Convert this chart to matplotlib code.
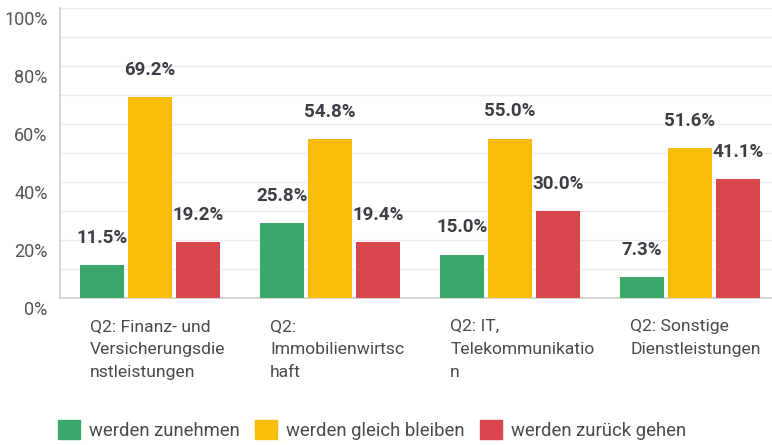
import numpy as np
import matplotlib.pyplot as plt
import matplotlib.transforms as mtransforms
from matplotlib.patches import Patch

categories = [
    "Q2: Finanz- und\nVersicherungsdie\nnstleistungen",
    "Q2:\nImmobilienwirtsc\nhaft",
    "Q2: IT,\nTelekommunikatio\nn",
    "Q2: Sonstige\nDienstleistungen",
]
series_names = ["werden zunehmen", "werden gleich bleiben", "werden zurück gehen"]
zunehmen = [11.5, 25.8, 15.0, 7.3]
gleich = [69.2, 54.8, 55.0, 51.6]
zurueck = [19.2, 19.4, 30.0, 41.1]
colors = ["#3aa86a", "#f7bd0a", "#d9464b"]

plt.rcParams["font.family"] = ["Roboto", "DejaVu Sans"]

fig = plt.figure(figsize=(7.72, 4.45), dpi=100)
ax = fig.add_axes([60 / 772, 147 / 445, 720 / 772, 290 / 445])

x = np.arange(len(categories))
width = 0.24
step = 0.267
for k, (vals, col) in enumerate(zip([zunehmen, gleich, zurueck], colors)):
    pos = x + (k - 1) * step
    ax.bar(pos, vals, width, color=col, zorder=3)
    for p, v in zip(pos, vals):
        ax.annotate(f"{v:.1f}%", (p, v), xytext=(0, 19.5), textcoords="offset points",
                    ha="center", va="center", fontsize=13.5, fontweight="bold", color="#3d3d45")

ax.set_xlim(-0.5, 3.5)
ax.set_ylim(0, 100)
ax.set_yticks(np.arange(0, 101, 20))
ax.set_yticks(np.arange(0, 101, 10), minor=True)
ax.set_yticklabels([f"{t}%" for t in range(0, 101, 20)], fontsize=13, color="#555555")
ax.tick_params(axis="y", which="both", length=0, pad=9)
ax.grid(axis="y", which="both", color="#ececec", linewidth=1, zorder=0)
ax.set_xticks([])
for s in ["top", "right"]:
    ax.spines[s].set_visible(False)
ax.spines["left"].set_color("#d0d0d0")
ax.spines["bottom"].set_color("#d0d0d0")
ax.spines["left"].set_linewidth(1.2)
ax.spines["bottom"].set_linewidth(1.2)

offset = mtransforms.ScaledTranslation(0, -10 / 100, fig.dpi_scale_trans)
for lab in ax.get_yticklabels():
    lab.set_transform(lab.get_transform() + offset)

trans = mtransforms.blended_transform_factory(ax.transData, ax.transAxes)
for i, name in enumerate(categories):
    ax.text(i - step - width / 2 + 0.055, -0.072, name, transform=trans, ha="left", va="top",
            fontsize=12.6, color="#4a4a4a", linespacing=1.68)

handles = [Patch(facecolor=c, edgecolor=c) for c in colors]
fig.legend(handles, series_names, loc="center left", bbox_to_anchor=(58 / 772, 1 - 430 / 445),
           ncol=3, frameon=False, fontsize=13.3, handlelength=1.2, handleheight=1.2,
           handletextpad=0.5, columnspacing=0.8, borderpad=0, borderaxespad=0,
           labelcolor="#4a4a4a")

fig.savefig("out.png", dpi=100)
